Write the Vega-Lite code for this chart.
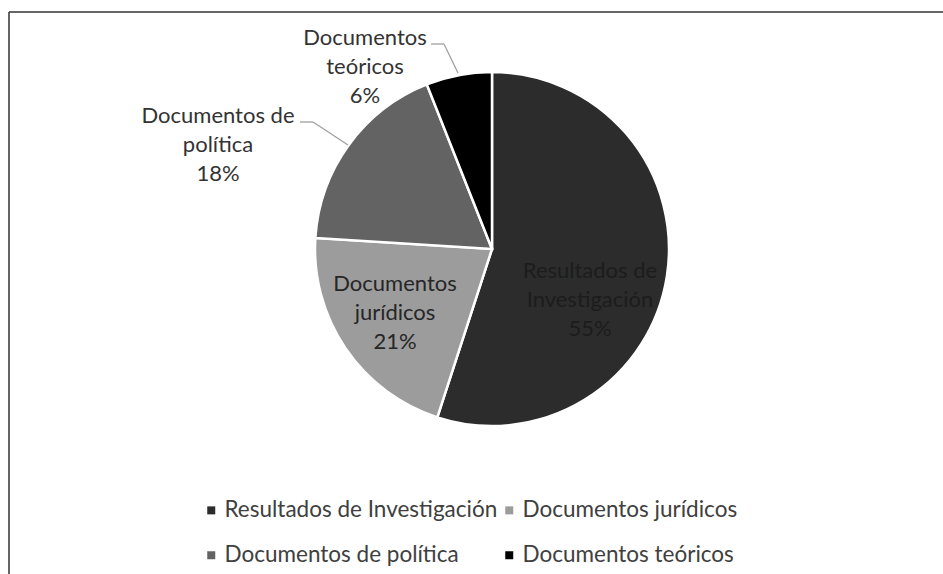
{
  "$schema": "https://vega.github.io/schema/vega-lite/v6.json",
  "autosize": "none",
  "padding": {"left": 9, "top": 12, "right": 0, "bottom": 0},
  "width": 934,
  "height": 562,
  "background": "white",
  "data": {"values": [
    {"cat": "Resultados de Investigación", "value": 55, "o": 1, "label": "Resultados de\nInvestigación\n55%"},
    {"cat": "Documentos jurídicos", "value": 21, "o": 2, "label": "Documentos\njurídicos\n21%"},
    {"cat": "Documentos de política", "value": 18, "o": 3, "label": "Documentos de\npolítica\n18%"},
    {"cat": "Documentos teóricos", "value": 6, "o": 4, "label": "Documentos\nteóricos\n6%"}
  ]},
  "layer": [
    {
      "mark": {"type": "arc", "outerRadius": 177, "stroke": "white", "strokeWidth": 2.5},
      "encoding": {
        "x": {"datum": 0, "type": "quantitative", "scale": {"domain": [-483, 451], "nice": false, "zero": false}, "axis": null},
        "y": {"datum": 0, "type": "quantitative", "scale": {"domain": [-325, 237], "nice": false, "zero": false}, "axis": null},
        "theta": {"field": "value", "type": "quantitative", "stack": true},
        "order": {"field": "o", "type": "quantitative"},
        "color": {
          "field": "cat", "type": "nominal",
          "scale": {
            "domain": ["Resultados de Investigación", "Documentos jurídicos", "Documentos de política", "Documentos teóricos"],
            "range": ["#2c2c2c", "#9c9c9c", "#636363", "#000000"]
          },
          "legend": {
            "title": null, "orient": "none", "legendX": 191, "legendY": 487,
            "direction": "horizontal", "columns": 2, "symbolType": "square", "symbolSize": 64,
            "symbolStrokeWidth": 0, "symbolOpacity": 1,
            "labelFont": "Lato", "labelFontSize": 22.5, "labelColor": "#404040",
            "labelOffset": 2, "columnPadding": -7, "rowPadding": 22, "padding": 0,
            "labelLimit": 400
          }
        }
      }
    },
    {
      "transform": [{"filter": "datum.o == 1"}],
      "mark": {"type": "text", "font": "Lato", "fontSize": 22, "lineBreak": "\n", "lineHeight": 29, "baseline": "middle", "align": "center", "color": "#1c1c1c"},
      "encoding": {"x": {"datum": 98, "type": "quantitative"}, "y": {"datum": -22, "type": "quantitative"}, "text": {"field": "label"}}
    },
    {
      "transform": [{"filter": "datum.o == 2"}],
      "mark": {"type": "text", "font": "Lato", "fontSize": 22, "lineBreak": "\n", "lineHeight": 29, "baseline": "middle", "align": "center", "color": "#262626"},
      "encoding": {"x": {"datum": -97, "type": "quantitative"}, "y": {"datum": -35, "type": "quantitative"}, "text": {"field": "label"}}
    },
    {
      "transform": [{"filter": "datum.o == 3"}],
      "mark": {"type": "text", "font": "Lato", "fontSize": 22, "lineBreak": "\n", "lineHeight": 29, "baseline": "middle", "align": "center", "color": "#333333"},
      "encoding": {"x": {"datum": -274, "type": "quantitative"}, "y": {"datum": 133, "type": "quantitative"}, "text": {"field": "label"}}
    },
    {
      "transform": [{"filter": "datum.o == 4"}],
      "mark": {"type": "text", "font": "Lato", "fontSize": 22, "lineBreak": "\n", "lineHeight": 29, "baseline": "middle", "align": "center", "color": "#333333"},
      "encoding": {"x": {"datum": -127, "type": "quantitative"}, "y": {"datum": 211, "type": "quantitative"}, "text": {"field": "label"}}
    },
    {
      "data": {"values": [{}]},
      "mark": {"type": "rule", "color": "#a0a0a0", "strokeWidth": 1.3},
      "encoding": {"x": {"datum": -192}, "x2": {"datum": -179}, "y": {"datum": 127}, "y2": {"datum": 127}}
    },
    {
      "data": {"values": [{}]},
      "mark": {"type": "rule", "color": "#a0a0a0", "strokeWidth": 1.3},
      "encoding": {"x": {"datum": -179}, "x2": {"datum": -144}, "y": {"datum": 127}, "y2": {"datum": 104}}
    },
    {
      "data": {"values": [{}]},
      "mark": {"type": "rule", "color": "#a0a0a0", "strokeWidth": 1.3},
      "encoding": {"x": {"datum": -61}, "x2": {"datum": -48}, "y": {"datum": 205}, "y2": {"datum": 205}}
    },
    {
      "data": {"values": [{}]},
      "mark": {"type": "rule", "color": "#a0a0a0", "strokeWidth": 1.3},
      "encoding": {"x": {"datum": -48}, "x2": {"datum": -34}, "y": {"datum": 205}, "y2": {"datum": 176}}
    }
  ],
  "config": {
    "view": {"stroke": "#333333", "strokeWidth": 1.5, "strokeDash": [934, 1496, 562, 0]}
  }
}
